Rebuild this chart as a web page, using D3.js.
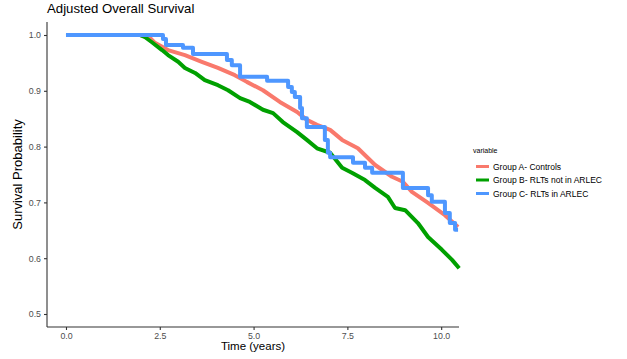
<!DOCTYPE html>
<html>
<head>
<meta charset="utf-8">
<script src="https://cdn.jsdelivr.net/npm/d3@7"></script>
<style>
  html, body { margin: 0; padding: 0; background: #fff; }
  svg { display: block; font-family: "Liberation Sans", Arial, sans-serif; }
</style>
</head>
<body>
<svg id="chart" width="627" height="359"></svg>
<script>
// ---- data ----
const title = "Adjusted Overall Survival";
const xLabel = "Time (years)";
const yLabel = "Survival Probability";
const legendTitle = "variable";
const seriesNames = ["Group A- Controls", "Group B- RLTs not in ARLEC", "Group C- RLTs in ARLEC"];
const seriesColors = ["#F9796C", "#00A000", "#4E97FF"];
const xTicks = [0, 2.5, 5, 7.5, 10];
const yTicks = [0.5, 0.6, 0.7, 0.8, 0.9, 1.0];

const timeA = [0, 1.97, 2.24, 2.37, 2.72, 3.17, 3.62, 4.05, 4.50, 4.82, 5.25, 5.70, 6.16, 6.42, 6.69, 7.04, 7.36, 7.78, 8.24, 8.69, 8.98, 9.22, 9.65, 10.10, 10.45];
const survA = [1.0, 1.0, 0.995, 0.986, 0.973, 0.964, 0.952, 0.941, 0.928, 0.916, 0.901, 0.880, 0.862, 0.848, 0.839, 0.830, 0.812, 0.797, 0.767, 0.746, 0.737, 0.719, 0.699, 0.677, 0.656];

const timeB = [0, 1.97, 2.11, 2.29, 2.56, 2.72, 2.99, 3.17, 3.44, 3.70, 4.05, 4.32, 4.64, 4.90, 5.25, 5.52, 5.78, 6.16, 6.42, 6.69, 7.04, 7.36, 7.62, 7.97, 8.24, 8.58, 8.77, 9.04, 9.38, 9.65, 10.02, 10.29, 10.48];
const survB = [1.0, 1.0, 0.996, 0.987, 0.973, 0.964, 0.952, 0.941, 0.932, 0.919, 0.910, 0.901, 0.887, 0.880, 0.866, 0.860, 0.844, 0.826, 0.812, 0.797, 0.789, 0.762, 0.753, 0.740, 0.726, 0.710, 0.690, 0.686, 0.663, 0.638, 0.615, 0.597, 0.582];

const timeC = [0, 2.585, 2.665, 3.118, 3.385, 4.29, 4.42, 4.64, 5.36, 5.92, 6.02, 6.10, 6.24, 6.29, 6.42, 6.90, 6.98, 7.04, 7.65, 7.97, 8.16, 8.98, 9.65, 9.75, 10.10, 10.23, 10.37, 10.45];
const survC = [1.0, 0.993, 0.982, 0.977, 0.966, 0.955, 0.946, 0.925, 0.918, 0.907, 0.898, 0.889, 0.869, 0.851, 0.835, 0.812, 0.789, 0.781, 0.771, 0.762, 0.753, 0.726, 0.713, 0.701, 0.681, 0.663, 0.651, 0.651];

// ---- build ----
const series = [
  { name: seriesNames[0], color: seriesColors[0], pts: timeA.map((t, i) => [t, survA[i]]), curve: d3.curveLinear },
  { name: seriesNames[1], color: seriesColors[1], pts: timeB.map((t, i) => [t, survB[i]]), curve: d3.curveLinear },
  { name: seriesNames[2], color: seriesColors[2], pts: timeC.map((t, i) => [t, survC[i]]), curve: d3.curveStepAfter }
];

const svg = d3.select("#chart");
const mLeft = 47, mRight = 459, mTop = 22, mBottom = 327;

const x = d3.scaleLinear().domain([-0.506, 10.475]).range([mLeft, mRight]);
const y = d3.scaleLinear().domain([0.4767, 1.0233]).range([mBottom, mTop]);

// lines
series.forEach(s => {
  const line = d3.line().x(d => x(d[0])).y(d => y(d[1])).curve(s.curve);
  svg.append("path")
    .datum(s.pts)
    .attr("fill", "none")
    .attr("stroke", s.color)
    .attr("stroke-width", 4)
    .attr("stroke-linejoin", "round")
    .attr("d", line);
});

// axes
const xAxis = d3.axisBottom(x).tickValues(xTicks).tickFormat(d3.format(".1f")).tickSize(3).tickPadding(3);
const yAxis = d3.axisLeft(y).tickValues(yTicks).tickFormat(d3.format(".1f")).tickSize(3).tickPadding(3);

const gx = svg.append("g").attr("transform", `translate(0,${mBottom})`).call(xAxis);
const gy = svg.append("g").attr("transform", `translate(${mLeft},0)`).call(yAxis);

[gx, gy].forEach(g => {
  g.select(".domain").remove();
  g.selectAll(".tick line").attr("stroke", "#333").attr("stroke-width", 1.1);
  g.selectAll(".tick text").attr("fill", "#4D4D4D").style("font-size", "8.8px")
    .style("font-family", "'Liberation Sans', Arial, sans-serif");
});

svg.append("line").attr("x1", mLeft).attr("x2", mRight).attr("y1", mBottom).attr("y2", mBottom)
  .attr("stroke", "#333").attr("stroke-width", 1.1);
svg.append("line").attr("x1", mLeft).attr("x2", mLeft).attr("y1", mTop).attr("y2", mBottom)
  .attr("stroke", "#333").attr("stroke-width", 1.1);

// titles
svg.append("text").attr("x", 47).attr("y", 13).text(title)
  .style("font-size", "13.2px").attr("fill", "#000");

svg.append("text").attr("x", (mLeft + mRight) / 2).attr("y", 350).attr("text-anchor", "middle")
  .text(xLabel).style("font-size", "11.5px").attr("fill", "#000");

svg.append("text").attr("transform", `translate(22,${(mTop + mBottom) / 2}) rotate(-90)`)
  .attr("text-anchor", "middle").text(yLabel).style("font-size", "13px").attr("fill", "#000");

// legend
const lg = svg.append("g");
lg.append("text").attr("x", 473).attr("y", 153).text(legendTitle).style("font-size", "7px").attr("fill", "#000");
const rowY = [166.5, 180, 193.5];
series.forEach((s, i) => {
  lg.append("line").attr("x1", 476).attr("x2", 489).attr("y1", rowY[i]).attr("y2", rowY[i])
    .attr("stroke", s.color).attr("stroke-width", 3);
  lg.append("text").attr("x", 493).attr("y", rowY[i] + 3).text(s.name)
    .style("font-size", "8.5px").attr("fill", "#000");
});
</script>
</body>
</html>
